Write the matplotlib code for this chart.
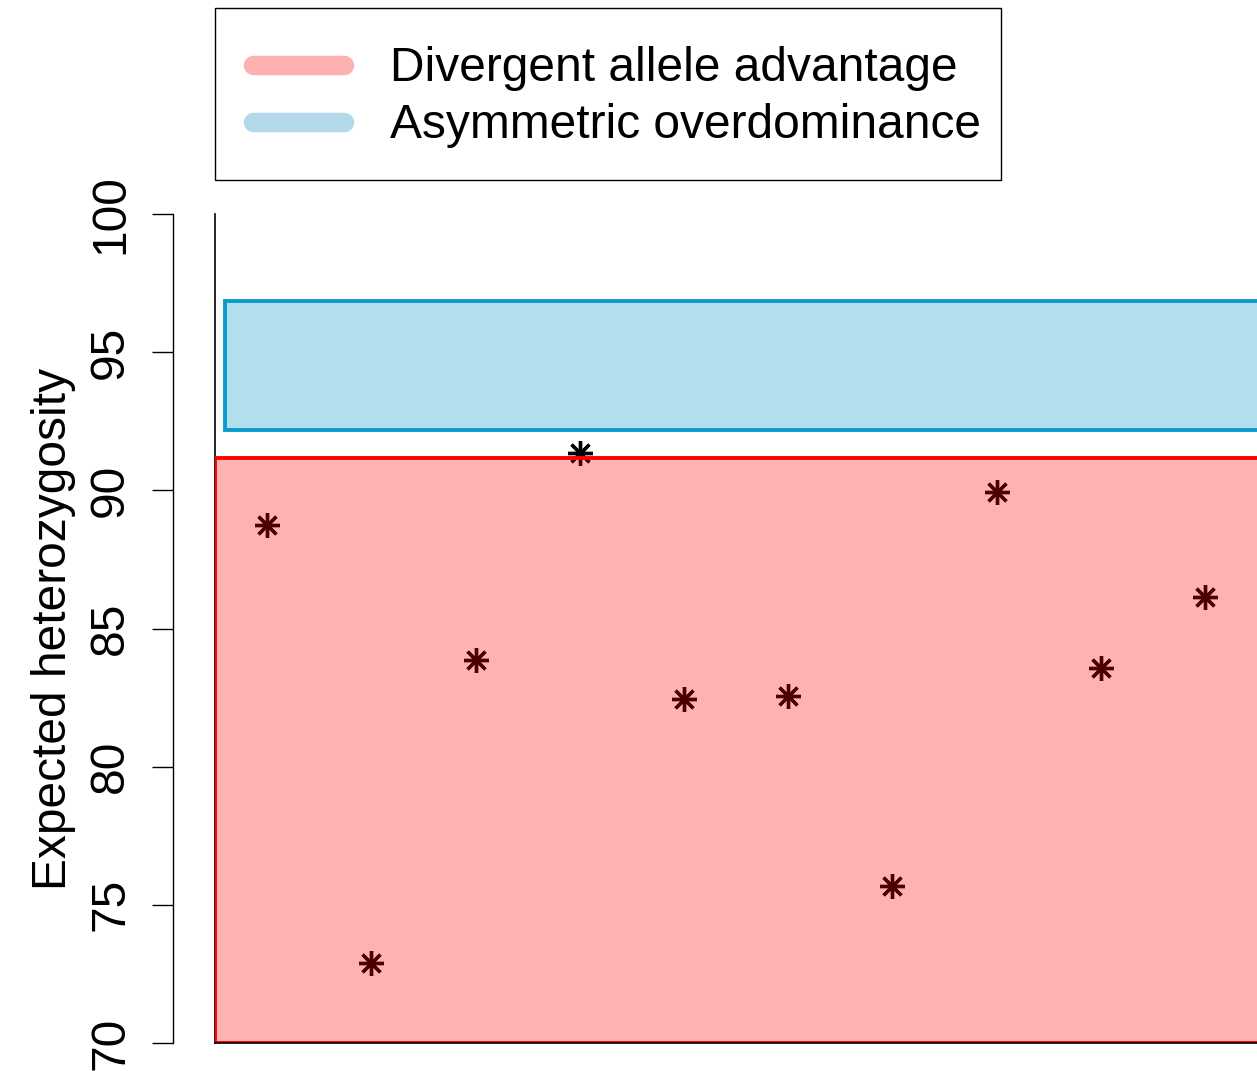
import matplotlib
matplotlib.use('Agg')
import matplotlib.pyplot as plt
from matplotlib.patches import Rectangle
from matplotlib.lines import Line2D

plt.rcParams['font.family'] = ['Liberation Sans', 'DejaVu Sans']

# data
loci = [1, 2, 3, 4, 5, 6, 7, 8, 9, 10]
het = [88.74, 72.89, 83.86, 91.35, 82.45, 82.55, 75.68, 89.94, 83.57, 86.14]
daa_top = 91.17            # divergent allele advantage upper bound
aod_low, aod_high = 92.18, 96.85   # asymmetric overdominance range
yticks = [70, 75, 80, 85, 90, 95, 100]
labels = ['Divergent allele advantage', 'Asymmetric overdominance']

fs = 34.5
W, H = 1257, 1071
fig = plt.figure(figsize=(W / 100, H / 100), dpi=100)
ax = fig.add_axes([215/W, 1 - 1043/H, 1 - 215/W, (1043 - 214)/H])

ax.plot(loci, het, linestyle='none', marker=(8, 2, 0), markersize=18,
        markeredgewidth=2.4, color='black', zorder=1)

ax.add_patch(Rectangle((0.5, 70), 11, daa_top - 70, facecolor=(1, 0, 0, 0.3),
                       edgecolor='red', linewidth=2.8, zorder=2, clip_on=True))
ax.add_patch(Rectangle((0.596, aod_low), 11, aod_high - aod_low,
                       facecolor=(0, 0.59, 0.79, 0.3), edgecolor=(0, 0.59, 0.79, 0.95),
                       linewidth=2.8, zorder=2, clip_on=True))

for s in ['top', 'right', 'bottom']:
    ax.spines[s].set_visible(False)
ax.spines['left'].set_position(('outward', 30))
ax.spines['left'].set_linewidth(1.0)
# plot frame: left side under the fill, bottom on top
ax.plot([0, 0], [0, 1], transform=ax.transAxes, color='black', lw=1.2,
        clip_on=False, zorder=1.5)
ax.plot([0, 1], [0, 0], transform=ax.transAxes, color='black', lw=1.2,
        clip_on=False, zorder=5)

ax.set_xlim(0.5, 10.5)
ax.set_ylim(70, 100)
ax.set_xticks([])
ax.set_yticks(yticks, [str(t) for t in yticks])
ax.tick_params(axis='y', length=15, width=1.0, pad=14, labelsize=fs)
plt.setp(ax.get_yticklabels(), rotation=90, va='center')

ax.set_ylabel('Expected heterozygosity', fontsize=fs, labelpad=9)

handles = [Line2D([0], [0], color='#FDB1B1', lw=14, solid_capstyle='round'),
           Line2D([0], [0], color='#B3D8E9', lw=14, solid_capstyle='round')]
leg = fig.legend(handles, labels, loc='upper left',
                 bbox_to_anchor=(215/W, 1 - 8/H), fontsize=fs,
                 frameon=False, handlelength=1.9, handletextpad=0.95,
                 labelspacing=0.25, borderpad=0.8, borderaxespad=0)
# legend box
fig.patches.append(Rectangle((215/W, 1 - 180/H), (1001 - 215)/W, 172/H,
                             transform=fig.transFigure, fill=False,
                             edgecolor='black', linewidth=1.0))

fig.savefig('out.png', dpi=100)
